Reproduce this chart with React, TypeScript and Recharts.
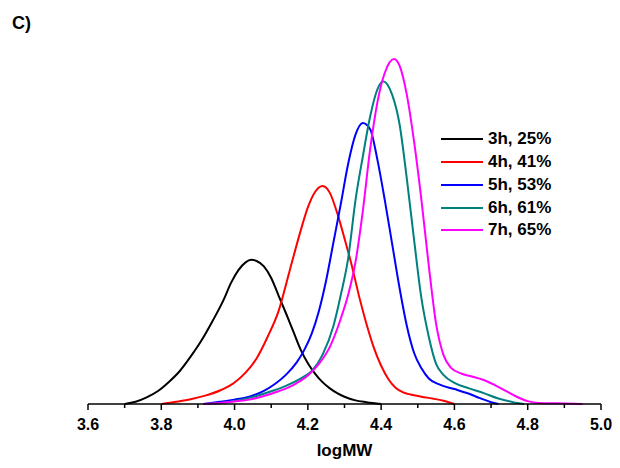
import React from 'react';
import { LineChart, Line, XAxis, YAxis, Legend, Label } from 'recharts';

// logMW positions and detector response for each reaction time
const mw3h = [3.70, 3.73, 3.76, 3.79, 3.82, 3.85, 3.88, 3.91, 3.94, 3.97, 3.99, 4.01, 4.03, 4.045, 4.06, 4.08, 4.10, 4.12, 4.14, 4.16, 4.18, 4.20, 4.22, 4.24, 4.26, 4.28, 4.30, 4.33, 4.36, 4.40];
const w3h = [0, 0.6, 1.8, 3.5, 6.0, 9.0, 13.0, 17.5, 22.8, 28.6, 33.2, 36.7, 38.9, 39.6, 39.3, 37.8, 34.6, 29.8, 25.0, 20.0, 15.0, 11.2, 8.3, 6.0, 4.3, 3.0, 2.0, 1.0, 0.5, 0];

const mw4h = [3.80, 3.84, 3.88, 3.92, 3.96, 4.00, 4.03, 4.06, 4.09, 4.12, 4.15, 4.18, 4.20, 4.22, 4.24, 4.26, 4.28, 4.30, 4.32, 4.34, 4.36, 4.38, 4.40, 4.42, 4.44, 4.46, 4.48, 4.51, 4.54, 4.57, 4.60];
const w4h = [0, 0.6, 1.3, 2.3, 3.7, 5.9, 8.6, 12.5, 18.4, 25.5, 36.5, 47.5, 54.0, 58.3, 59.9, 58.0, 52.5, 45.5, 38.0, 29.5, 22.0, 15.5, 10.5, 6.8, 4.4, 3.2, 2.6, 2.0, 1.5, 0.9, 0];

const mw5h = [3.915, 3.96, 4.00, 4.04, 4.08, 4.11, 4.14, 4.17, 4.19, 4.21, 4.23, 4.25, 4.27, 4.29, 4.31, 4.33, 4.35, 4.37, 4.39, 4.41, 4.43, 4.45, 4.47, 4.49, 4.51, 4.53, 4.56, 4.60, 4.64, 4.67, 4.70, 4.72];
const w5h = [0, 0.6, 1.2, 2.0, 3.6, 5.5, 8.0, 11.5, 14.8, 19.2, 25.5, 34, 44.5, 55, 66, 74, 77.2, 75.5, 67, 56, 44, 32, 21.5, 14, 9.8, 7, 5.3, 4.1, 2.8, 1.6, 0.5, 0];

const mw6h = [3.93, 3.98, 4.02, 4.06, 4.10, 4.14, 4.18, 4.21, 4.24, 4.27, 4.29, 4.31, 4.33, 4.35, 4.37, 4.39, 4.405, 4.43, 4.45, 4.47, 4.49, 4.51, 4.53, 4.55, 4.57, 4.60, 4.64, 4.68, 4.72, 4.76, 4.79];
const w6h = [0, 0.5, 1.2, 2.2, 3.5, 5.0, 7.0, 9.0, 13.5, 21.5, 30, 40, 56, 68, 79, 86.5, 88.7, 85, 77, 62, 45, 29, 18.5, 11, 8, 5.8, 4.3, 3.0, 1.5, 0.5, 0];

const mw7h = [3.915, 3.96, 4.00, 4.04, 4.08, 4.12, 4.16, 4.20, 4.23, 4.26, 4.29, 4.31, 4.33, 4.35, 4.37, 4.39, 4.41, 4.435, 4.45, 4.47, 4.49, 4.51, 4.53, 4.55, 4.57, 4.59, 4.62, 4.65, 4.68, 4.71, 4.74, 4.77, 4.80, 4.83, 4.88, 4.95];
const w7h = [0, 0.3, 0.7, 1.2, 2.2, 3.5, 5.2, 7.8, 11, 15.7, 23.5, 30, 39, 53, 70, 83, 91, 94.8, 93, 85, 72, 56, 38, 22, 13.5, 10, 8.3, 7.5, 6.6, 5.2, 3.6, 2.0, 0.8, 0.3, 0.2, 0];

const seriesNames = ['3h, 25%', '4h, 41%', '5h, 53%', '6h, 61%', '7h, 65%'];
const seriesColors = ['#000000', '#ff0000', '#0000ff', '#008080', '#ff00ff'];
const xTicks = [3.6, 3.7, 3.8, 3.9, 4.0, 4.1, 4.2, 4.3, 4.4, 4.5, 4.6, 4.7, 4.8, 4.9, 5.0];

const FONT = 'Arial, "Liberation Sans", sans-serif';

const toPoints = (xs: number[], ys: number[]) => xs.map((mw, i) => ({ mw, w: ys[i] }));
const series = [
  toPoints(mw3h, w3h),
  toPoints(mw4h, w4h),
  toPoints(mw5h, w5h),
  toPoints(mw6h, w6h),
  toPoints(mw7h, w7h),
];

function AxisTick(props: any) {
  const { x, y, payload } = props;
  const v = payload.value as number;
  const major = Math.round(v * 10) % 2 === 0;
  return (
    <g>
      <line x1={x} x2={x} y1={y} y2={y + (major ? 6 : 4)} stroke="#000" strokeWidth={1.5} />
      {major && (
        <text x={x} y={y + 26} textAnchor="middle" fontFamily={FONT} fontWeight="bold" fontSize={16} fill="#000">
          {v.toFixed(1)}
        </text>
      )}
    </g>
  );
}

function LegendBox() {
  return (
    <div style={{ fontFamily: FONT }}>
      {seriesNames.map((name, i) => (
        <div key={name} style={{ display: 'flex', alignItems: 'center', height: 22.75 }}>
          <svg width={42} height={6}>
            <line x1={0} x2={42} y1={3} y2={3} stroke={seriesColors[i]} strokeWidth={2} />
          </svg>
          <span style={{ marginLeft: 5, fontWeight: 'bold', fontSize: 17, color: '#000', lineHeight: '20px' }}>{name}</span>
        </div>
      ))}
    </div>
  );
}

export default function App() {
  return (
    <div style={{ position: 'relative', width: 604, height: 452 }}>
      <div style={{ position: 'absolute', left: 4, top: 5, fontFamily: FONT, fontWeight: 'bold', fontSize: 18, lineHeight: '20px' }}>
        C)
      </div>
      <LineChart width={604} height={452} margin={{ top: 32, right: 11, left: 80, bottom: 0 }}>
        <XAxis
          type="number"
          dataKey="mw"
          domain={[3.6, 5.0]}
          ticks={xTicks}
          tick={<AxisTick />}
          tickLine={false}
          tickSize={0}
          tickMargin={0}
          height={56}
          axisLine={{ stroke: '#000', strokeWidth: 1.5 }}
          interval={0}
        >
          <Label value="logMW" position="insideBottom" offset={4} style={{ fontFamily: FONT, fontWeight: 'bold', fontSize: 17, fill: '#000' }} />
        </XAxis>
        <YAxis type="number" domain={[0, 100]} hide />
        <Legend
          layout="vertical"
          align="center"
          verticalAlign="middle"
          content={<LegendBox />}
          wrapperStyle={{ left: 433, top: 120, width: 160 }}
        />
        {series.map((pts, i) => (
          <Line
            key={seriesNames[i]}
            data={pts}
            dataKey="w"
            name={seriesNames[i]}
            type="monotone"
            stroke={seriesColors[i]}
            strokeWidth={2}
            dot={false}
            activeDot={false}
            isAnimationActive={false}
          />
        ))}
      </LineChart>
    </div>
  );
}
